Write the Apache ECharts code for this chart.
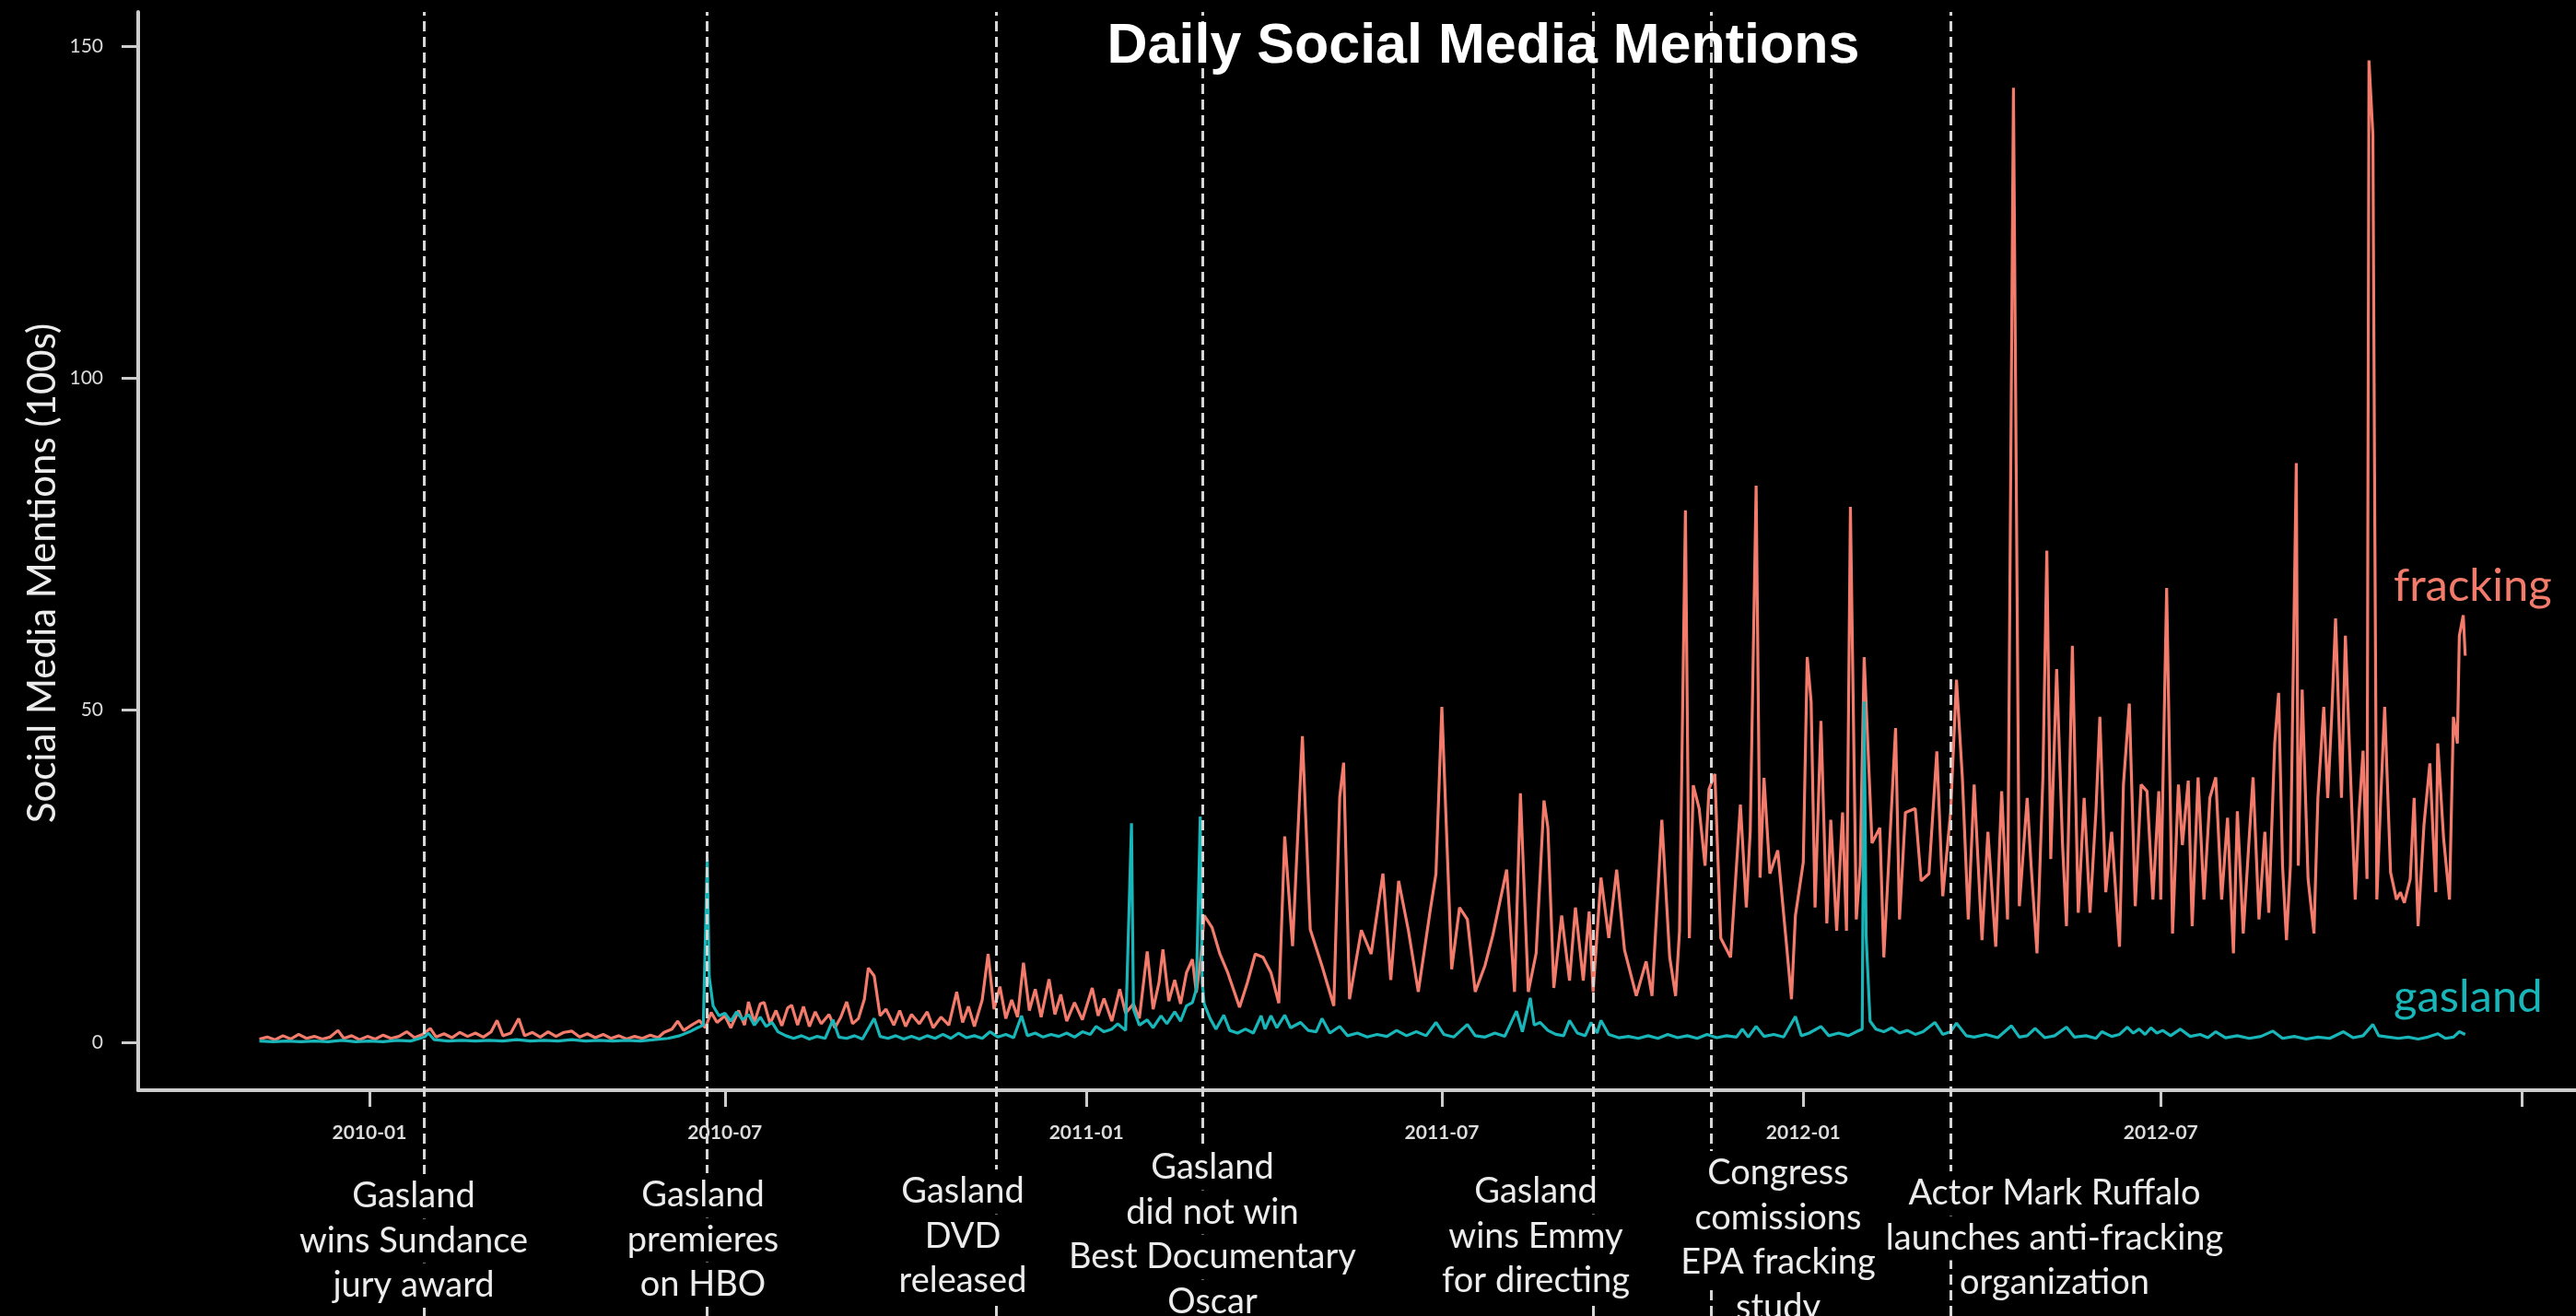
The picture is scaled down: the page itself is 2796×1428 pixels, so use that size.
<!DOCTYPE html>
<html><head><meta charset="utf-8">
<script src="https://cdn.jsdelivr.net/npm/echarts@6/dist/echarts.min.js"></script>
<style>html,body{margin:0;padding:0;background:#000;}#c{width:2796px;height:1428px;}</style>
</head><body><div id="c"></div>
<script>
// ---------------- data ----------------
const frackingData = [
['2009-11-06',0.5],['2009-11-10',0.8],['2009-11-14',0.4],['2009-11-18',1.0],['2009-11-22',0.5],['2009-11-26',1.2],['2009-11-30',0.6],
['2009-12-04',0.9],['2009-12-08',0.5],['2009-12-12',0.8],['2009-12-16',1.8],['2009-12-19',0.6],['2009-12-23',1.0],['2009-12-27',0.4],['2009-12-31',0.9],
['2010-01-04',0.5],['2010-01-08',1.1],['2010-01-12',0.6],['2010-01-16',0.9],['2010-01-20',1.6],['2010-01-24',0.7],['2010-01-28',1.2],
['2010-02-01',2.1],['2010-02-04',0.8],['2010-02-08',1.3],['2010-02-12',0.7],['2010-02-16',1.5],['2010-02-20',0.9],['2010-02-24',1.4],['2010-02-28',0.8],
['2010-03-04',1.6],['2010-03-07',3.3],['2010-03-10',1.0],['2010-03-14',1.4],['2010-03-18',3.6],['2010-03-21',1.0],['2010-03-25',1.5],['2010-03-29',0.8],
['2010-04-02',1.6],['2010-04-06',0.9],['2010-04-10',1.5],['2010-04-14',1.7],['2010-04-18',0.8],['2010-04-22',1.3],['2010-04-26',0.7],['2010-04-30',1.2],
['2010-05-04',0.6],['2010-05-08',1.0],['2010-05-12',0.5],['2010-05-16',0.9],['2010-05-20',0.6],['2010-05-24',1.1],['2010-05-28',0.7],['2010-05-31',1.5],
['2010-06-04',2.0],['2010-06-07',3.2],['2010-06-10',1.8],['2010-06-14',2.6],['2010-06-18',3.3],['2010-06-21',2.2],['2010-06-24',4.5],['2010-06-27',3.0],
['2010-07-01',4.0],['2010-07-04',2.2],['2010-07-08',4.8],['2010-07-11',2.6],['2010-07-13',6.1],['2010-07-16',3.0],['2010-07-19',5.8],['2010-07-21',6.0],
['2010-07-24',2.8],['2010-07-27',4.8],['2010-07-30',2.5],['2010-08-02',5.2],['2010-08-04',5.6],['2010-08-07',2.6],['2010-08-10',5.4],['2010-08-13',2.4],
['2010-08-16',4.6],['2010-08-19',2.8],['2010-08-23',4.2],['2010-08-26',2.2],['2010-08-29',3.8],['2010-09-01',6.1],['2010-09-04',2.8],['2010-09-07',3.6],
['2010-09-10',6.5],['2010-09-12',11.2],['2010-09-15',10.0],['2010-09-18',4.0],['2010-09-21',5.0],['2010-09-25',2.6],['2010-09-28',4.8],
['2010-10-01',2.4],['2010-10-04',4.2],['2010-10-08',2.8],['2010-10-12',4.6],['2010-10-15',2.2],['2010-10-19',3.8],['2010-10-23',2.6],['2010-10-27',7.6],['2010-10-30',3.0],
['2010-11-02',5.4],['2010-11-05',2.4],['2010-11-09',6.4],['2010-11-12',13.3],['2010-11-15',5.0],['2010-11-18',8.4],['2010-11-21',3.6],['2010-11-24',6.4],['2010-11-27',3.8],['2010-11-30',12.0],
['2010-12-03',4.8],['2010-12-06',8.0],['2010-12-09',3.8],['2010-12-13',9.5],['2010-12-16',4.2],['2010-12-19',7.2],['2010-12-22',3.2],['2010-12-26',6.0],['2010-12-30',3.4],
['2011-01-04',8.2],['2011-01-07',4.0],['2011-01-10',6.6],['2011-01-14',3.2],['2011-01-18',8.0],['2011-01-21',4.4],['2011-01-25',5.8],['2011-01-28',3.6],
['2011-02-01',13.7],['2011-02-04',5.0],['2011-02-07',9.0],['2011-02-09',14.0],['2011-02-12',6.2],['2011-02-15',9.4],['2011-02-18',5.8],['2011-02-21',10.5],['2011-02-24',12.5],['2011-02-26',7.5],['2011-02-28',12.0],
['2011-03-02',19.1],['2011-03-06',17.3],['2011-03-10',13.3],['2011-03-14',10.5],['2011-03-20',5.3],['2011-03-24',9.0],['2011-03-28',13.3],
['2011-04-01',12.8],['2011-04-05',10.5],['2011-04-09',5.9],['2011-04-12',31.0],['2011-04-16',14.5],['2011-04-21',46.1],['2011-04-25',17.0],
['2011-05-01',11.5],['2011-05-07',5.5],['2011-05-10',36.9],['2011-05-12',42.1],['2011-05-15',6.5],['2011-05-21',16.9],['2011-05-26',13.3],
['2011-06-01',25.4],['2011-06-05',9.4],['2011-06-09',24.3],['2011-06-14',16.8],['2011-06-19',7.6],['2011-06-25',19.7],['2011-06-28',25.4],
['2011-07-01',50.5],['2011-07-06',11.0],['2011-07-10',20.3],['2011-07-14',18.5],['2011-07-18',7.6],['2011-07-23',11.6],['2011-07-27',16.2],
['2011-08-03',26.0],['2011-08-07',7.6],['2011-08-10',37.5],['2011-08-14',7.6],['2011-08-18',13.4],['2011-08-22',36.4],['2011-08-24',32.3],['2011-08-27',8.2],['2011-08-31',19.1],
['2011-09-04',9.3],['2011-09-07',20.3],['2011-09-11',9.3],['2011-09-14',19.7],['2011-09-16',7.6],['2011-09-20',24.8],['2011-09-24',15.7],['2011-09-28',26.0],
['2011-10-02',13.9],['2011-10-08',7.0],['2011-10-13',12.2],['2011-10-16',7.0],['2011-10-21',33.5],['2011-10-25',12.8],['2011-10-28',7.0],['2011-10-30',16.8],
['2011-11-02',80.1],['2011-11-04',15.7],['2011-11-06',38.7],['2011-11-09',35.2],['2011-11-12',26.6],['2011-11-14',38.1],['2011-11-17',40.4],['2011-11-20',15.7],['2011-11-25',12.8],['2011-11-30',35.8],
['2011-12-03',20.3],['2011-12-05',31.8],['2011-12-08',83.8],['2011-12-10',24.8],['2011-12-12',39.8],['2011-12-15',25.4],['2011-12-19',28.9],['2011-12-23',16.2],['2011-12-26',6.5],['2011-12-28',19.1],
['2012-01-01',27.1],['2012-01-03',58.0],['2012-01-05',51.3],['2012-01-07',20.3],['2012-01-10',48.4],['2012-01-13',17.9],['2012-01-15',33.5],['2012-01-18',16.8],['2012-01-21',34.6],['2012-01-23',16.8],['2012-01-25',80.6],['2012-01-28',18.5],['2012-01-30',26.6],
['2012-02-01',58.0],['2012-02-05',30.0],['2012-02-09',32.3],['2012-02-11',12.8],['2012-02-17',47.3],['2012-02-19',18.5],['2012-02-22',34.6],['2012-02-27',35.2],
['2012-03-01',24.3],['2012-03-05',25.4],['2012-03-09',43.8],['2012-03-12',22.0],['2012-03-16',34.6],['2012-03-19',54.6],['2012-03-22',39.8],['2012-03-25',18.5],['2012-03-28',38.8],
['2012-04-01',15.4],['2012-04-04',31.7],['2012-04-08',14.4],['2012-04-11',37.8],['2012-04-14',18.5],['2012-04-17',143.7],['2012-04-20',20.5],['2012-04-24',36.8],['2012-04-26',26.6],['2012-04-29',13.4],
['2012-05-02',39.9],['2012-05-04',74.0],['2012-05-06',27.6],['2012-05-09',56.2],['2012-05-12',29.7],['2012-05-14',17.5],['2012-05-17',59.7],['2012-05-20',19.5],['2012-05-23',36.8],['2012-05-26',19.5],['2012-05-29',34.8],['2012-05-31',49.0],
['2012-06-03',22.6],['2012-06-06',31.7],['2012-06-10',14.4],['2012-06-12',38.8],['2012-06-15',51.0],['2012-06-18',20.5],['2012-06-21',38.8],['2012-06-24',37.8],['2012-06-27',21.5],['2012-06-30',37.8],
['2012-07-01',21.5],['2012-07-04',68.4],['2012-07-07',16.4],['2012-07-10',38.8],['2012-07-12',29.7],['2012-07-15',39.4],['2012-07-17',17.5],['2012-07-20',39.9],['2012-07-23',21.5],['2012-07-26',36.8],['2012-07-29',39.9],
['2012-08-01',21.5],['2012-08-04',33.8],['2012-08-07',13.4],['2012-08-09',34.8],['2012-08-12',16.4],['2012-08-15',30.7],['2012-08-17',39.9],['2012-08-20',18.5],['2012-08-23',31.7],['2012-08-25',19.5],['2012-08-28',45.0],['2012-08-30',52.6],
['2012-09-01',26.6],['2012-09-03',15.4],['2012-09-05',26.6],['2012-09-08',87.2],['2012-09-09',26.6],['2012-09-11',53.1],['2012-09-14',24.6],['2012-09-17',16.4],['2012-09-19',36.8],['2012-09-22',50.5],['2012-09-24',36.8],['2012-09-26',49.0],['2012-09-28',63.8],
['2012-10-01',36.8],['2012-10-03',61.2],['2012-10-05',45.0],['2012-10-08',21.5],['2012-10-10',34.8],['2012-10-12',43.9],['2012-10-14',24.6],['2012-10-15',147.8],['2012-10-17',136.6],['2012-10-18',76.5],
['2012-10-19',21.5],['2012-10-21',36.8],['2012-10-23',50.5],['2012-10-26',25.6],['2012-10-29',21.5],['2012-10-31',22.6],
['2012-11-02',21.0],['2012-11-05',24.6],['2012-11-07',36.8],['2012-11-09',17.5],['2012-11-12',32.7],['2012-11-15',42.0],['2012-11-18',22.6],['2012-11-19',45.0],['2012-11-22',30.7],['2012-11-25',21.5],['2012-11-27',49.0],['2012-11-29',45.0],['2012-11-30',61.2],
['2012-12-02',64.3],['2012-12-03',58.2]
];

const gaslandData = [
['2009-11-06',0.2],['2009-11-13',0.1],['2009-11-20',0.2],['2009-11-27',0.1],['2009-12-04',0.2],['2009-12-11',0.1],['2009-12-18',0.3],['2009-12-25',0.1],
['2010-01-01',0.2],['2010-01-08',0.1],['2010-01-15',0.3],['2010-01-22',0.2],['2010-01-29',0.8],['2010-01-31',1.4],['2010-02-03',0.4],['2010-02-10',0.2],['2010-02-17',0.3],['2010-02-24',0.2],
['2010-03-03',0.3],['2010-03-10',0.2],['2010-03-17',0.4],['2010-03-24',0.2],['2010-03-31',0.3],['2010-04-07',0.2],['2010-04-14',0.4],['2010-04-21',0.2],['2010-04-28',0.3],
['2010-05-05',0.2],['2010-05-12',0.3],['2010-05-19',0.2],['2010-05-26',0.4],['2010-06-02',0.6],['2010-06-08',1.0],['2010-06-13',1.6],['2010-06-17',2.2],['2010-06-20',2.6],
['2010-06-22',27.7],['2010-06-23',9.9],['2010-06-25',5.5],['2010-06-28',4.0],['2010-07-01',4.4],['2010-07-04',3.2],['2010-07-07',4.6],['2010-07-10',3.4],['2010-07-13',4.2],
['2010-07-16',2.6],['2010-07-19',3.8],['2010-07-22',2.4],['2010-07-25',3.0],['2010-07-28',1.6],['2010-08-01',1.0],['2010-08-05',0.6],['2010-08-09',1.0],['2010-08-13',0.5],
['2010-08-17',0.9],['2010-08-21',0.6],['2010-08-25',3.4],['2010-08-28',0.8],['2010-09-01',0.6],['2010-09-05',1.0],['2010-09-09',0.5],['2010-09-15',3.6],['2010-09-18',0.9],
['2010-09-22',0.6],['2010-09-26',1.0],['2010-09-30',0.5],['2010-10-04',0.9],['2010-10-08',0.5],['2010-10-12',1.0],['2010-10-16',0.6],['2010-10-20',1.2],['2010-10-24',0.6],
['2010-10-28',1.4],['2010-11-01',0.7],['2010-11-05',1.0],['2010-11-09',0.6],['2010-11-13',1.6],['2010-11-17',0.8],['2010-11-21',1.2],['2010-11-25',0.7],['2010-11-29',4.0],
['2010-12-02',1.0],['2010-12-06',1.4],['2010-12-10',0.8],['2010-12-14',1.2],['2010-12-18',0.9],['2010-12-22',1.4],['2010-12-26',0.8],['2010-12-30',1.6],
['2011-01-03',1.2],['2011-01-06',2.4],['2011-01-10',1.6],['2011-01-14',2.0],['2011-01-17',2.8],['2011-01-21',1.8],['2011-01-24',33.0],['2011-01-25',5.0],['2011-01-28',2.6],
['2011-02-01',3.4],['2011-02-04',2.2],['2011-02-08',4.0],['2011-02-11',2.8],['2011-02-15',4.6],['2011-02-18',3.2],['2011-02-21',5.5],['2011-02-24',6.0],['2011-02-26',8.0],
['2011-02-28',34.0],['2011-03-01',9.0],['2011-03-02',5.8],['2011-03-05',3.6],['2011-03-08',2.0],['2011-03-12',4.1],['2011-03-15',1.8],['2011-03-19',1.4],['2011-03-23',2.0],
['2011-03-27',1.4],['2011-03-31',4.0],['2011-04-02',2.0],['2011-04-05',4.0],['2011-04-08',2.2],['2011-04-12',4.1],['2011-04-15',2.2],['2011-04-20',3.0],['2011-04-24',1.8],
['2011-04-28',1.6],['2011-05-01',3.6],['2011-05-05',1.4],['2011-05-10',2.4],['2011-05-14',1.0],['2011-05-19',1.4],['2011-05-24',0.8],['2011-05-29',1.2],['2011-06-03',0.9],
['2011-06-08',1.8],['2011-06-13',1.0],['2011-06-18',1.6],['2011-06-23',1.0],['2011-06-28',3.0],['2011-07-02',1.2],['2011-07-07',0.8],['2011-07-14',2.7],['2011-07-18',1.0],
['2011-07-23',0.8],['2011-07-28',1.4],['2011-08-02',0.9],['2011-08-08',4.7],['2011-08-11',1.6],['2011-08-15',6.7],['2011-08-17',2.6],['2011-08-20',3.0],['2011-08-24',1.8],
['2011-08-28',1.2],['2011-09-01',1.0],['2011-09-04',3.3],['2011-09-08',1.4],['2011-09-12',1.0],['2011-09-15',3.0],['2011-09-18',1.4],['2011-09-20',3.3],['2011-09-24',1.2],
['2011-09-29',0.7],['2011-10-04',0.9],['2011-10-09',0.6],['2011-10-14',1.0],['2011-10-19',0.6],['2011-10-24',1.2],['2011-10-29',0.7],['2011-11-03',1.0],['2011-11-08',0.6],
['2011-11-13',1.2],['2011-11-18',0.7],['2011-11-23',1.0],['2011-11-28',0.8],['2011-12-01',2.0],['2011-12-04',0.8],['2011-12-08',2.4],['2011-12-12',0.9],['2011-12-17',1.2],
['2011-12-22',0.8],['2011-12-28',3.9],['2011-12-31',1.0],['2012-01-04',1.4],['2012-01-10',2.4],['2012-01-14',1.0],['2012-01-19',1.4],['2012-01-24',1.0],['2012-01-28',1.6],
['2012-01-31',2.0],['2012-02-01',51.3],['2012-02-02',16.0],['2012-02-04',3.2],['2012-02-07',2.0],['2012-02-11',1.6],['2012-02-15',2.2],['2012-02-19',1.4],['2012-02-23',1.8],
['2012-02-27',1.2],['2012-03-02',1.6],['2012-03-08',3.0],['2012-03-12',1.2],['2012-03-16',1.6],['2012-03-19',2.9],['2012-03-24',1.0],['2012-03-28',0.8],['2012-04-03',1.2],
['2012-04-09',0.7],['2012-04-16',2.5],['2012-04-20',0.8],['2012-04-24',1.0],['2012-04-28',2.1],['2012-05-03',0.7],['2012-05-08',1.0],['2012-05-14',2.3],['2012-05-18',0.8],
['2012-05-24',1.0],['2012-05-29',0.6],['2012-06-01',1.6],['2012-06-06',0.9],['2012-06-10',1.2],['2012-06-14',2.3],['2012-06-17',1.4],['2012-06-20',2.0],['2012-06-23',1.2],
['2012-06-26',2.2],['2012-06-29',1.4],['2012-07-02',1.8],['2012-07-06',1.0],['2012-07-11',2.0],['2012-07-16',0.9],['2012-07-21',1.2],['2012-07-25',0.7],['2012-07-29',1.6],
['2012-08-03',0.7],['2012-08-09',1.0],['2012-08-15',0.6],['2012-08-21',0.9],['2012-08-27',1.7],['2012-09-01',0.6],['2012-09-07',0.9],['2012-09-13',0.5],['2012-09-19',0.8],
['2012-09-25',0.6],['2012-10-02',1.6],['2012-10-07',0.7],['2012-10-12',1.0],['2012-10-17',2.7],['2012-10-20',1.0],['2012-10-25',0.8],['2012-10-30',0.6],['2012-11-04',0.8],
['2012-11-09',0.5],['2012-11-14',0.8],['2012-11-19',1.3],['2012-11-23',0.6],['2012-11-27',0.8],['2012-11-30',1.6],['2012-12-03',1.2]
];

const xTickMonths = ['2010-01','2010-07','2011-01','2011-07','2012-01','2012-07','2013-01'];
const xLabelMonths = ['2010-01','2010-07','2011-01','2011-07','2012-01','2012-07'];
const yTicks = [0, 50, 100, 150];

const eventDates = ['2010-01-29','2010-06-22','2010-11-16','2011-03-01','2011-09-16','2011-11-15','2012-03-16'];
const eventTexts = [
  ['Gasland','wins Sundance','jury award'],
  ['Gasland','premieres','on HBO'],
  ['Gasland','DVD','released'],
  ['Gasland','did not win','Best Documentary','Oscar'],
  ['Gasland','wins Emmy','for directing'],
  ['Congress','comissions','EPA fracking','study'],
  ['Actor Mark Ruffalo','launches anti-fracking','organization']
];
const titleText = 'Daily Social Media Mentions';
const yAxisTitle = 'Social Media Mentions (100s)';
const seriesNames = ['fracking', 'gasland'];

// ---------------- layout / style ----------------
const DAY = 86400000;
const base = Date.UTC(2010, 0, 1);
const xMin = base - 117.7 * DAY;
const xMax = base + 1123.4 * DAY;
const eventLabelPos = [[449,1298],[763,1297],[1045,1293],[1316,1267],[1667,1293],[1930,1273],[2230,1295]];
const lineGap = 48.5;
const colFrack = '#f27b6b', colGas = '#18b5b9', axisCol = '#cdcdcd', txtCol = '#ececec';

const toTs = s => Date.parse(s.length === 7 ? s + '-01T00:00:00Z' : s + 'T00:00:00Z');
const fmtMonth = v => { const d = new Date(v); return d.getUTCFullYear() + '-' + String(d.getUTCMonth() + 1).padStart(2, '0'); };

const graphics = [];
graphics.push({ type: 'text', z: 100, x: 1610, y: 51,
  style: { text: titleText, fill: '#fff', font: 'bold 61px "Liberation Sans", Arial, sans-serif', textAlign: 'center', textVerticalAlign: 'middle' } });
graphics.push({ type: 'text', z: 100, x: 46, y: 622, rotation: Math.PI / 2,
  style: { text: yAxisTitle, fill: txtCol, font: '42px Lato, sans-serif', textAlign: 'center', textVerticalAlign: 'middle' } });
graphics.push({ type: 'text', z: 100, x: 2598, y: 636,
  style: { text: seriesNames[0], fill: colFrack, font: '49px Lato, sans-serif', textAlign: 'left', textVerticalAlign: 'middle' } });
graphics.push({ type: 'text', z: 100, x: 2598, y: 1082,
  style: { text: seriesNames[1], fill: colGas, font: '49px Lato, sans-serif', textAlign: 'left', textVerticalAlign: 'middle' } });
eventTexts.forEach((lines, i) => {
  lines.forEach((t, j) => {
    graphics.push({ type: 'text', z: 100, x: eventLabelPos[i][0], y: eventLabelPos[i][1] + j * lineGap,
      style: { text: t, fill: txtCol, font: '38px Lato, sans-serif', textAlign: 'center', textVerticalAlign: 'middle',
        backgroundColor: '#000', padding: [5, 6, 5, 6] } });
  });
});

const chart = echarts.init(document.getElementById('c'), null, { renderer: 'canvas' });
chart.setOption({
  backgroundColor: '#000',
  animation: false,
  grid: [
    { left: 150, right: 0, top: 13, bottom: 245, containLabel: false, outerBoundsMode: 'none' },
    { left: 150, right: 0, top: 13, bottom: 0, containLabel: false, outerBoundsMode: 'none' }
  ],
  xAxis: [
    { type: 'value', gridIndex: 0, min: xMin, max: xMax,
      axisLine: { show: true, onZero: false, lineStyle: { color: axisCol, width: 4 } },
      axisTick: { show: true, customValues: xTickMonths.map(toTs), length: 18, lineStyle: { color: axisCol, width: 3 } },
      axisLabel: { show: true, customValues: xLabelMonths.map(toTs), formatter: v => fmtMonth(v), color: '#dcdcdc',
        fontFamily: 'Lato, sans-serif', fontSize: 21, fontWeight: 'bold', margin: 36 },
      splitLine: { show: false } },
    { type: 'value', gridIndex: 1, min: xMin, max: xMax, show: false }
  ],
  yAxis: [
    { type: 'value', gridIndex: 0, min: -7.2, max: 155.1,
      axisLine: { show: true, onZero: false, lineStyle: { color: axisCol, width: 4 } },
      axisTick: { show: true, customValues: yTicks, length: 18, lineStyle: { color: axisCol, width: 3 } },
      axisLabel: { show: true, customValues: yTicks, color: '#dcdcdc', fontFamily: 'Lato, sans-serif', fontSize: 21, margin: 38 },
      splitLine: { show: false } },
    { type: 'value', gridIndex: 1, min: 0, max: 1, show: false }
  ],
  series: [
    { name: seriesNames[0], type: 'line', xAxisIndex: 0, yAxisIndex: 0, showSymbol: false, symbol: 'none', z: 3,
      data: frackingData.map(p => [toTs(p[0]), p[1]]), lineStyle: { color: colFrack, width: 3.2 }, silent: true },
    { name: seriesNames[1], type: 'line', xAxisIndex: 0, yAxisIndex: 0, showSymbol: false, symbol: 'none', z: 4,
      data: gaslandData.map(p => [toTs(p[0]), p[1]]), lineStyle: { color: colGas, width: 3.2 }, silent: true },
    { name: 'events', type: 'line', xAxisIndex: 1, yAxisIndex: 1, showSymbol: false, symbol: 'none', z: 6, silent: true,
      data: eventDates.map(d => [toTs(d), 0.5]), lineStyle: { opacity: 0 },
      markLine: { symbol: 'none', silent: true, animation: false, label: { show: false },
        lineStyle: { color: '#d6d6d6', width: 3, type: [11, 6] },
        data: eventDates.map(d => ({ xAxis: toTs(d) })) } }
  ],
  graphic: graphics
});
</script></body></html>
